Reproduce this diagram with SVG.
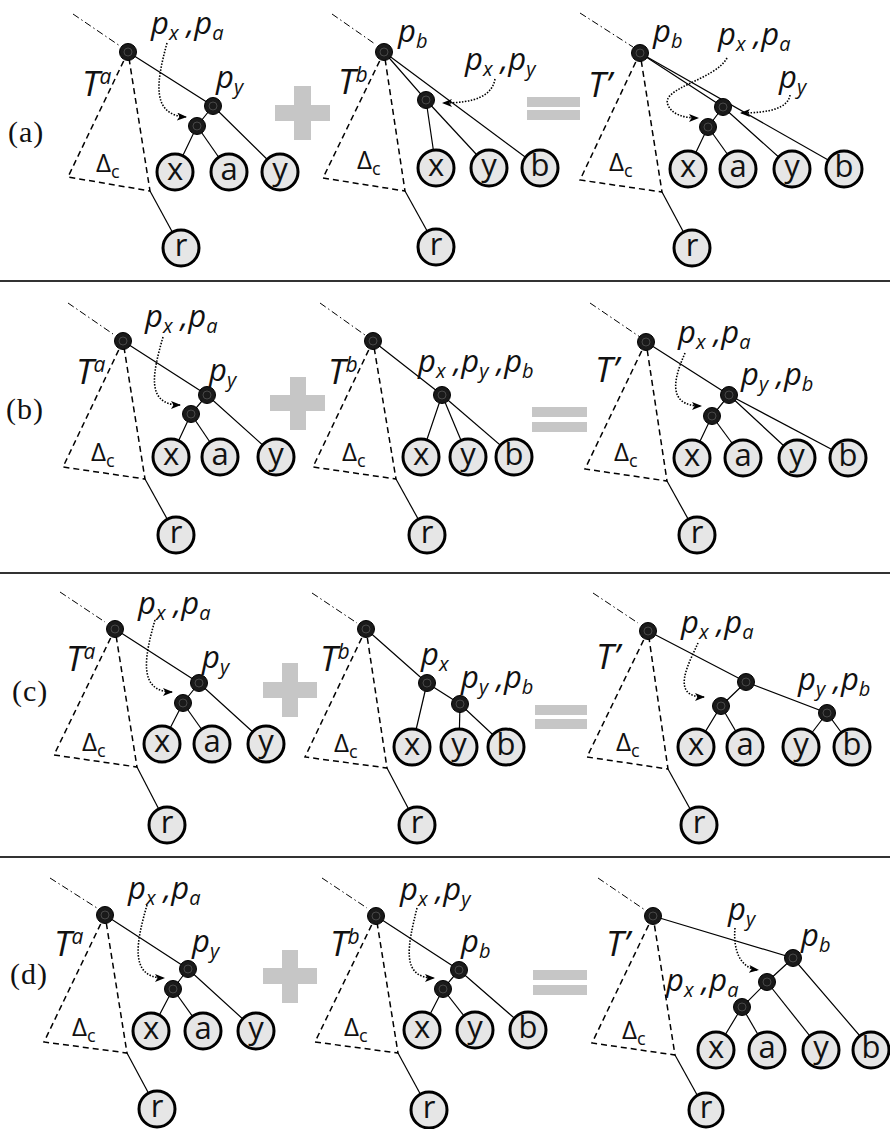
<svg xmlns="http://www.w3.org/2000/svg" width="890" height="1129" viewBox="0 0 890 1129">
<defs>
<style>
.e{stroke:#000;stroke-width:1.2;fill:none}
.dd{stroke:#000;stroke-width:1;stroke-dasharray:7 3 1.5 3;fill:none}
.tri{stroke:#000;stroke-width:1.5;stroke-dasharray:6 4;fill:none}
.arr{stroke:#000;stroke-width:1.6;stroke-dasharray:1.5 1.5;fill:none;marker-end:url(#ah)}
.in{fill:#1a1a1a;stroke:#000;stroke-width:1}
.ring{fill:none;stroke:#666;stroke-width:0.6}
.lf{fill:#e6e6e6;stroke:#000;stroke-width:3}
.lt{font-family:"Open Sans",sans-serif;font-size:31px;text-anchor:middle;fill:#111}
.lbl{font-family:"Open Sans",sans-serif;font-style:italic;font-size:31px;fill:#111}
.sub{font-size:20px}
.T{font-family:"Open Sans",sans-serif;font-style:italic;font-size:35px;fill:#111}
.sup{font-size:21px}
.D{font-family:"Open Sans",sans-serif;font-size:26px;fill:#111}
.subc{font-size:18px}
.pn{font-family:"Liberation Serif",serif;font-size:30px;letter-spacing:1px;fill:#111}
.g{fill:#c6c6c6}
.sep{stroke:#333;stroke-width:2}
</style>
<marker id="ah" markerUnits="userSpaceOnUse" markerWidth="11" markerHeight="9" refX="9" refY="4" orient="auto">
<path d="M0,0 L10,4 L0,8 L2.5,4 Z" fill="#000"/>
</marker>
</defs>
<rect width="890" height="1129" fill="#fff"/>

<g id="separators">
<line class="sep" x1="0" y1="281" x2="890" y2="281"/>
<line class="sep" x1="0" y1="573" x2="890" y2="573"/>
<line class="sep" x1="0" y1="857" x2="890" y2="857"/>
</g>

<g id="operators">
<g id="plus-a"><rect class="g" x="275" y="105" width="55" height="16"/><rect class="g" x="294" y="86" width="17" height="54"/></g>
<g id="eq-a"><rect class="g" x="527" y="97" width="53" height="10"/><rect class="g" x="527" y="110" width="53" height="10"/></g>
<g id="plus-b"><rect class="g" x="270" y="395" width="55" height="16"/><rect class="g" x="290" y="377" width="16" height="53"/></g>
<g id="eq-b"><rect class="g" x="532" y="407" width="55" height="10"/><rect class="g" x="532" y="422" width="55" height="10"/></g>
<g id="plus-c"><rect class="g" x="263" y="682" width="54" height="16"/><rect class="g" x="282" y="663" width="16" height="54"/></g>
<g id="eq-c"><rect class="g" x="535" y="705" width="52" height="10"/><rect class="g" x="535" y="719" width="52" height="10"/></g>
<g id="plus-d"><rect class="g" x="263" y="968" width="54" height="16"/><rect class="g" x="282" y="950" width="16" height="53"/></g>
<g id="eq-d"><rect class="g" x="533" y="970" width="54" height="10"/><rect class="g" x="533" y="985" width="54" height="10"/></g>
</g>

<g id="connectors">
<line class="dd" x1="73" y1="14" x2="120" y2="46"/>
<polygon class="tri" points="128,52 68,177 150,191"/>
<line class="e" x1="150" y1="191" x2="181" y2="248"/>
<polyline class="e" points="128,52 213,106 280,172"/>
<polyline class="e" points="213,106 197,126 175,172"/>
<line class="e" x1="197" y1="126" x2="229" y2="172"/>
<path class="arr" d="M167,43 C157,80 150,115 186,117"/>
<line class="dd" x1="332" y1="14" x2="375" y2="44"/>
<polygon class="tri" points="384,52 323,178 405,191"/>
<line class="e" x1="405" y1="191" x2="436" y2="247"/>
<polyline class="e" points="384,52 426,100 436,168"/>
<line class="e" x1="426" y1="100" x2="489" y2="168"/>
<line class="e" x1="384" y1="52" x2="540" y2="168"/>
<path class="arr" d="M495,79 C492,96 475,103 443,103"/>
<line class="dd" x1="580" y1="13" x2="633" y2="47"/>
<polygon class="tri" points="640,53 580,180 662,192"/>
<line class="e" x1="662" y1="192" x2="692" y2="248"/>
<polyline class="e" points="640,53 723,107 792,169"/>
<line class="e" x1="640" y1="53" x2="844" y2="169"/>
<polyline class="e" points="723,107 708,127 688,169"/>
<line class="e" x1="708" y1="127" x2="738" y2="169"/>
<path class="arr" d="M727,58 C715,80 660,88 668,105 C672,115 685,118 698,118"/>
<path class="arr" d="M790,95 C788,108 770,113 741,113"/>

<line class="dd" x1="68" y1="303" x2="113" y2="334"/>
<polygon class="tri" points="123,341 63,467 145,479"/>
<line class="e" x1="145" y1="479" x2="176" y2="535"/>
<polyline class="e" points="123,341 207,395 276,457"/>
<polyline class="e" points="207,395 191,414 171,457"/>
<line class="e" x1="191" y1="414" x2="220" y2="457"/>
<path class="arr" d="M163,337 C153,372 145,405 180,405"/>
<line class="dd" x1="320" y1="303" x2="365" y2="335"/>
<polygon class="tri" points="373,341 313,467 396,479"/>
<line class="e" x1="396" y1="479" x2="427" y2="535"/>
<polyline class="e" points="373,341 442,395 421,457"/>
<line class="e" x1="442" y1="395" x2="468" y2="457"/>
<line class="e" x1="442" y1="395" x2="514" y2="457"/>
<line class="dd" x1="590" y1="303" x2="640" y2="337"/>
<polygon class="tri" points="646,342 585,469 667,481"/>
<line class="e" x1="667" y1="481" x2="697" y2="535"/>
<polyline class="e" points="646,342 729,395 797,458"/>
<line class="e" x1="729" y1="395" x2="848" y2="458"/>
<polyline class="e" points="729,395 712,416 692,458"/>
<line class="e" x1="712" y1="416" x2="743" y2="458"/>
<path class="arr" d="M685,353 C675,376 665,406 701,406"/>

<line class="dd" x1="60" y1="592" x2="105" y2="622"/>
<polygon class="tri" points="115,629 54,755 137,767"/>
<line class="e" x1="137" y1="767" x2="167" y2="825"/>
<polyline class="e" points="115,629 199,683 266,744"/>
<polyline class="e" points="199,683 183,703 162,744"/>
<line class="e" x1="183" y1="703" x2="212" y2="744"/>
<path class="arr" d="M155,620 C145,655 137,692 172,692"/>
<line class="dd" x1="312" y1="593" x2="357" y2="623"/>
<polygon class="tri" points="366,629 305,757 387,768"/>
<line class="e" x1="387" y1="768" x2="417" y2="825"/>
<polyline class="e" points="366,629 427,683 460,704 506,747"/>
<line class="e" x1="427" y1="683" x2="412" y2="747"/>
<line class="e" x1="460" y1="704" x2="459" y2="747"/>
<line class="dd" x1="593" y1="593" x2="638" y2="623"/>
<polygon class="tri" points="648,631 587,757 668,769"/>
<line class="e" x1="668" y1="769" x2="699" y2="825"/>
<polyline class="e" points="648,631 746,682 827,713 852,747"/>
<line class="e" x1="827" y1="713" x2="801" y2="747"/>
<polyline class="e" points="746,682 721,706 696,747"/>
<line class="e" x1="721" y1="706" x2="745" y2="747"/>
<path class="arr" d="M698,643 C688,665 670,697 704,697"/>

<line class="dd" x1="50" y1="878" x2="97" y2="908"/>
<polygon class="tri" points="105,915 44,1042 127,1053"/>
<line class="e" x1="127" y1="1053" x2="157" y2="1109"/>
<polyline class="e" points="105,915 188,969 256,1031"/>
<polyline class="e" points="188,969 173,989 151,1031"/>
<line class="e" x1="173" y1="989" x2="203" y2="1031"/>
<path class="arr" d="M147,905 C137,940 128,978 164,978"/>
<line class="dd" x1="322" y1="878" x2="367" y2="908"/>
<polygon class="tri" points="376,916 315,1042 398,1053"/>
<line class="e" x1="398" y1="1053" x2="429" y2="1110"/>
<polyline class="e" points="376,916 459,970 528,1030"/>
<polyline class="e" points="459,970 443,989 422,1030"/>
<line class="e" x1="443" y1="989" x2="475" y2="1030"/>
<path class="arr" d="M417,908 C408,945 400,978 434,978"/>
<line class="dd" x1="598" y1="878" x2="645" y2="910"/>
<polygon class="tri" points="653,916 592,1043 675,1055"/>
<line class="e" x1="675" y1="1055" x2="706" y2="1111"/>
<polyline class="e" points="653,916 793,958 872,1050"/>
<polyline class="e" points="793,958 767,982 742,1007 716,1050"/>
<line class="e" x1="767" y1="982" x2="821" y2="1050"/>
<line class="e" x1="742" y1="1007" x2="767" y2="1050"/>
<path class="arr" d="M735,928 C733,950 740,968 758,970"/>
</g>

<g id="internal-nodes">
<g id="a1-root"><circle class="in" cx="128" cy="52" r="8.5"/><circle class="ring" cx="128" cy="52" r="4"/></g>
<g id="a1-py"><circle class="in" cx="213" cy="106" r="8.5"/><circle class="ring" cx="213" cy="106" r="4"/></g>
<g id="a1-pxa"><circle class="in" cx="197" cy="126" r="8.5"/><circle class="ring" cx="197" cy="126" r="4"/></g>
<g id="a2-root"><circle class="in" cx="384" cy="52" r="8.5"/><circle class="ring" cx="384" cy="52" r="4"/></g>
<g id="a2-pxy"><circle class="in" cx="426" cy="100" r="8.5"/><circle class="ring" cx="426" cy="100" r="4"/></g>
<g id="a3-root"><circle class="in" cx="640" cy="53" r="8.5"/><circle class="ring" cx="640" cy="53" r="4"/></g>
<g id="a3-py"><circle class="in" cx="723" cy="107" r="8.5"/><circle class="ring" cx="723" cy="107" r="4"/></g>
<g id="a3-pxa"><circle class="in" cx="708" cy="127" r="8.5"/><circle class="ring" cx="708" cy="127" r="4"/></g>

<g id="b1-root"><circle class="in" cx="123" cy="341" r="8.5"/><circle class="ring" cx="123" cy="341" r="4"/></g>
<g id="b1-py"><circle class="in" cx="207" cy="395" r="8.5"/><circle class="ring" cx="207" cy="395" r="4"/></g>
<g id="b1-pxa"><circle class="in" cx="191" cy="414" r="8.5"/><circle class="ring" cx="191" cy="414" r="4"/></g>
<g id="b2-root"><circle class="in" cx="373" cy="341" r="8.5"/><circle class="ring" cx="373" cy="341" r="4"/></g>
<g id="b2-pxyb"><circle class="in" cx="442" cy="395" r="8.5"/><circle class="ring" cx="442" cy="395" r="4"/></g>
<g id="b3-root"><circle class="in" cx="646" cy="342" r="8.5"/><circle class="ring" cx="646" cy="342" r="4"/></g>
<g id="b3-pyb"><circle class="in" cx="729" cy="395" r="8.5"/><circle class="ring" cx="729" cy="395" r="4"/></g>
<g id="b3-pxa"><circle class="in" cx="712" cy="416" r="8.5"/><circle class="ring" cx="712" cy="416" r="4"/></g>

<g id="c1-root"><circle class="in" cx="115" cy="629" r="8.5"/><circle class="ring" cx="115" cy="629" r="4"/></g>
<g id="c1-py"><circle class="in" cx="199" cy="683" r="8.5"/><circle class="ring" cx="199" cy="683" r="4"/></g>
<g id="c1-pxa"><circle class="in" cx="183" cy="703" r="8.5"/><circle class="ring" cx="183" cy="703" r="4"/></g>
<g id="c2-root"><circle class="in" cx="366" cy="629" r="8.5"/><circle class="ring" cx="366" cy="629" r="4"/></g>
<g id="c2-px"><circle class="in" cx="427" cy="683" r="8.5"/><circle class="ring" cx="427" cy="683" r="4"/></g>
<g id="c2-pyb"><circle class="in" cx="460" cy="704" r="8.5"/><circle class="ring" cx="460" cy="704" r="4"/></g>
<g id="c3-root"><circle class="in" cx="648" cy="631" r="8.5"/><circle class="ring" cx="648" cy="631" r="4"/></g>
<g id="c3-mid"><circle class="in" cx="746" cy="682" r="8.5"/><circle class="ring" cx="746" cy="682" r="4"/></g>
<g id="c3-pxa"><circle class="in" cx="721" cy="706" r="8.5"/><circle class="ring" cx="721" cy="706" r="4"/></g>
<g id="c3-pyb"><circle class="in" cx="827" cy="713" r="8.5"/><circle class="ring" cx="827" cy="713" r="4"/></g>

<g id="d1-root"><circle class="in" cx="105" cy="915" r="8.5"/><circle class="ring" cx="105" cy="915" r="4"/></g>
<g id="d1-py"><circle class="in" cx="188" cy="969" r="8.5"/><circle class="ring" cx="188" cy="969" r="4"/></g>
<g id="d1-pxa"><circle class="in" cx="173" cy="989" r="8.5"/><circle class="ring" cx="173" cy="989" r="4"/></g>
<g id="d2-root"><circle class="in" cx="376" cy="916" r="8.5"/><circle class="ring" cx="376" cy="916" r="4"/></g>
<g id="d2-pb"><circle class="in" cx="459" cy="970" r="8.5"/><circle class="ring" cx="459" cy="970" r="4"/></g>
<g id="d2-pxy"><circle class="in" cx="443" cy="989" r="8.5"/><circle class="ring" cx="443" cy="989" r="4"/></g>
<g id="d3-root"><circle class="in" cx="653" cy="916" r="8.5"/><circle class="ring" cx="653" cy="916" r="4"/></g>
<g id="d3-pb"><circle class="in" cx="793" cy="958" r="8.5"/><circle class="ring" cx="793" cy="958" r="4"/></g>
<g id="d3-py"><circle class="in" cx="767" cy="982" r="8.5"/><circle class="ring" cx="767" cy="982" r="4"/></g>
<g id="d3-pxa"><circle class="in" cx="742" cy="1007" r="8.5"/><circle class="ring" cx="742" cy="1007" r="4"/></g>
</g>

<g id="leaves">
<g id="a1-x"><circle class="lf" cx="175" cy="172" r="18"/><text class="lt" x="175" y="180">x</text></g>
<g id="a1-a"><circle class="lf" cx="229" cy="172" r="18"/><text class="lt" x="229" y="180">a</text></g>
<g id="a1-y"><circle class="lf" cx="280" cy="172" r="18"/><text class="lt" x="280" y="180">y</text></g>
<g id="a1-r"><circle class="lf" cx="181" cy="248" r="18"/><text class="lt" x="181" y="256">r</text></g>
<g id="a2-x"><circle class="lf" cx="436" cy="168" r="18"/><text class="lt" x="436" y="176">x</text></g>
<g id="a2-y"><circle class="lf" cx="489" cy="168" r="18"/><text class="lt" x="489" y="176">y</text></g>
<g id="a2-b"><circle class="lf" cx="540" cy="168" r="18"/><text class="lt" x="540" y="176">b</text></g>
<g id="a2-r"><circle class="lf" cx="436" cy="247" r="18"/><text class="lt" x="436" y="255">r</text></g>
<g id="a3-x"><circle class="lf" cx="688" cy="169" r="18"/><text class="lt" x="688" y="177">x</text></g>
<g id="a3-a"><circle class="lf" cx="738" cy="169" r="18"/><text class="lt" x="738" y="177">a</text></g>
<g id="a3-y"><circle class="lf" cx="792" cy="169" r="18"/><text class="lt" x="792" y="177">y</text></g>
<g id="a3-b"><circle class="lf" cx="844" cy="169" r="18"/><text class="lt" x="844" y="177">b</text></g>
<g id="a3-r"><circle class="lf" cx="692" cy="248" r="18"/><text class="lt" x="692" y="256">r</text></g>

<g id="b1-x"><circle class="lf" cx="171" cy="457" r="18"/><text class="lt" x="171" y="465">x</text></g>
<g id="b1-a"><circle class="lf" cx="220" cy="457" r="18"/><text class="lt" x="220" y="465">a</text></g>
<g id="b1-y"><circle class="lf" cx="276" cy="457" r="18"/><text class="lt" x="276" y="465">y</text></g>
<g id="b1-r"><circle class="lf" cx="176" cy="535" r="18"/><text class="lt" x="176" y="543">r</text></g>
<g id="b2-x"><circle class="lf" cx="421" cy="457" r="18"/><text class="lt" x="421" y="465">x</text></g>
<g id="b2-y"><circle class="lf" cx="468" cy="457" r="18"/><text class="lt" x="468" y="465">y</text></g>
<g id="b2-b"><circle class="lf" cx="514" cy="457" r="18"/><text class="lt" x="514" y="465">b</text></g>
<g id="b2-r"><circle class="lf" cx="427" cy="535" r="18"/><text class="lt" x="427" y="543">r</text></g>
<g id="b3-x"><circle class="lf" cx="692" cy="458" r="18"/><text class="lt" x="692" y="466">x</text></g>
<g id="b3-a"><circle class="lf" cx="743" cy="458" r="18"/><text class="lt" x="743" y="466">a</text></g>
<g id="b3-y"><circle class="lf" cx="797" cy="458" r="18"/><text class="lt" x="797" y="466">y</text></g>
<g id="b3-b"><circle class="lf" cx="848" cy="458" r="18"/><text class="lt" x="848" y="466">b</text></g>
<g id="b3-r"><circle class="lf" cx="697" cy="535" r="18"/><text class="lt" x="697" y="543">r</text></g>

<g id="c1-x"><circle class="lf" cx="162" cy="744" r="18"/><text class="lt" x="162" y="752">x</text></g>
<g id="c1-a"><circle class="lf" cx="212" cy="744" r="18"/><text class="lt" x="212" y="752">a</text></g>
<g id="c1-y"><circle class="lf" cx="266" cy="744" r="18"/><text class="lt" x="266" y="752">y</text></g>
<g id="c1-r"><circle class="lf" cx="167" cy="825" r="18"/><text class="lt" x="167" y="833">r</text></g>
<g id="c2-x"><circle class="lf" cx="412" cy="747" r="18"/><text class="lt" x="412" y="755">x</text></g>
<g id="c2-y"><circle class="lf" cx="459" cy="747" r="18"/><text class="lt" x="459" y="755">y</text></g>
<g id="c2-b"><circle class="lf" cx="506" cy="747" r="18"/><text class="lt" x="506" y="755">b</text></g>
<g id="c2-r"><circle class="lf" cx="417" cy="825" r="18"/><text class="lt" x="417" y="833">r</text></g>
<g id="c3-x"><circle class="lf" cx="696" cy="747" r="18"/><text class="lt" x="696" y="755">x</text></g>
<g id="c3-a"><circle class="lf" cx="745" cy="747" r="18"/><text class="lt" x="745" y="755">a</text></g>
<g id="c3-y"><circle class="lf" cx="801" cy="747" r="18"/><text class="lt" x="801" y="755">y</text></g>
<g id="c3-b"><circle class="lf" cx="852" cy="747" r="18"/><text class="lt" x="852" y="755">b</text></g>
<g id="c3-r"><circle class="lf" cx="699" cy="825" r="18"/><text class="lt" x="699" y="833">r</text></g>

<g id="d1-x"><circle class="lf" cx="151" cy="1031" r="18"/><text class="lt" x="151" y="1039">x</text></g>
<g id="d1-a"><circle class="lf" cx="203" cy="1031" r="18"/><text class="lt" x="203" y="1039">a</text></g>
<g id="d1-y"><circle class="lf" cx="256" cy="1031" r="18"/><text class="lt" x="256" y="1039">y</text></g>
<g id="d1-r"><circle class="lf" cx="157" cy="1109" r="18"/><text class="lt" x="157" y="1117">r</text></g>
<g id="d2-x"><circle class="lf" cx="422" cy="1030" r="18"/><text class="lt" x="422" y="1038">x</text></g>
<g id="d2-y"><circle class="lf" cx="475" cy="1030" r="18"/><text class="lt" x="475" y="1038">y</text></g>
<g id="d2-b"><circle class="lf" cx="528" cy="1030" r="18"/><text class="lt" x="528" y="1038">b</text></g>
<g id="d2-r"><circle class="lf" cx="429" cy="1110" r="18"/><text class="lt" x="429" y="1118">r</text></g>
<g id="d3-x"><circle class="lf" cx="716" cy="1050" r="18"/><text class="lt" x="716" y="1058">x</text></g>
<g id="d3-a"><circle class="lf" cx="767" cy="1050" r="18"/><text class="lt" x="767" y="1058">a</text></g>
<g id="d3-y"><circle class="lf" cx="821" cy="1050" r="18"/><text class="lt" x="821" y="1058">y</text></g>
<g id="d3-b"><circle class="lf" cx="871" cy="1050" r="18"/><text class="lt" x="871" y="1058">b</text></g>
<g id="d3-r"><circle class="lf" cx="706" cy="1110" r="17"/><text class="lt" x="706" y="1118">r</text></g>
</g>

<g id="labels">
<text class="pn" x="8" y="142">(a)</text>
<text class="pn" x="6" y="419">(b)</text>
<text class="pn" x="12" y="701">(c)</text>
<text class="pn" x="10" y="984">(d)</text>

<text class="T" x="82" y="96">T<tspan class="sup" dy="-12">a</tspan></text>
<text class="D" x="96" y="172">Δ<tspan class="subc" dy="6">c</tspan></text>
<text class="lbl" x="151" y="34">p<tspan class="sub" dy="6">x</tspan><tspan dy="-6"> ,p</tspan><tspan class="sub" dy="6">a</tspan></text>
<text class="lbl" x="216" y="88">p<tspan class="sub" dy="6">y</tspan></text>
<text class="T" x="338" y="94">T<tspan class="sup" dy="-12">b</tspan></text>
<text class="D" x="357" y="169">Δ<tspan class="subc" dy="6">c</tspan></text>
<text class="lbl" x="398" y="42">p<tspan class="sub" dy="6">b</tspan></text>
<text class="lbl" x="465" y="70">p<tspan class="sub" dy="6">x</tspan><tspan dy="-6"> ,p</tspan><tspan class="sub" dy="6">y</tspan></text>
<text class="T" x="588" y="97">T’</text>
<text class="D" x="609" y="171">Δ<tspan class="subc" dy="6">c</tspan></text>
<text class="lbl" x="653" y="42">p<tspan class="sub" dy="6">b</tspan></text>
<text class="lbl" x="718" y="45">p<tspan class="sub" dy="6">x</tspan><tspan dy="-6"> ,p</tspan><tspan class="sub" dy="6">a</tspan></text>
<text class="lbl" x="779" y="88">p<tspan class="sub" dy="6">y</tspan></text>

<text class="T" x="76" y="384">T<tspan class="sup" dy="-12">a</tspan></text>
<text class="D" x="91" y="461">Δ<tspan class="subc" dy="6">c</tspan></text>
<text class="lbl" x="145" y="327">p<tspan class="sub" dy="6">x</tspan><tspan dy="-6"> ,p</tspan><tspan class="sub" dy="6">a</tspan></text>
<text class="lbl" x="209" y="381">p<tspan class="sub" dy="6">y</tspan></text>
<text class="T" x="328" y="384">T<tspan class="sup" dy="-12">b</tspan></text>
<text class="D" x="342" y="461">Δ<tspan class="subc" dy="6">c</tspan></text>
<text class="lbl" x="418" y="372">p<tspan class="sub" dy="6">x</tspan><tspan dy="-6"> ,p</tspan><tspan class="sub" dy="6">y</tspan><tspan dy="-6"> ,p</tspan><tspan class="sub" dy="6">b</tspan></text>
<text class="T" x="595" y="382">T’</text>
<text class="D" x="614" y="461">Δ<tspan class="subc" dy="6">c</tspan></text>
<text class="lbl" x="678" y="343">p<tspan class="sub" dy="6">x</tspan><tspan dy="-6"> ,p</tspan><tspan class="sub" dy="6">a</tspan></text>
<text class="lbl" x="741" y="385">p<tspan class="sub" dy="6">y</tspan><tspan dy="-6"> ,p</tspan><tspan class="sub" dy="6">b</tspan></text>

<text class="T" x="66" y="671">T<tspan class="sup" dy="-12">a</tspan></text>
<text class="D" x="82" y="751">Δ<tspan class="subc" dy="6">c</tspan></text>
<text class="lbl" x="138" y="614">p<tspan class="sub" dy="6">x</tspan><tspan dy="-6"> ,p</tspan><tspan class="sub" dy="6">a</tspan></text>
<text class="lbl" x="202" y="668">p<tspan class="sub" dy="6">y</tspan></text>
<text class="T" x="320" y="671">T<tspan class="sup" dy="-12">b</tspan></text>
<text class="D" x="334" y="752">Δ<tspan class="subc" dy="6">c</tspan></text>
<text class="lbl" x="421" y="665">p<tspan class="sub" dy="6">x</tspan></text>
<text class="lbl" x="461" y="688">p<tspan class="sub" dy="6">y</tspan><tspan dy="-6"> ,p</tspan><tspan class="sub" dy="6">b</tspan></text>
<text class="T" x="596" y="669">T’</text>
<text class="D" x="616" y="751">Δ<tspan class="subc" dy="6">c</tspan></text>
<text class="lbl" x="681" y="633">p<tspan class="sub" dy="6">x</tspan><tspan dy="-6"> ,p</tspan><tspan class="sub" dy="6">a</tspan></text>
<text class="lbl" x="798" y="690">p<tspan class="sub" dy="6">y</tspan><tspan dy="-6"> ,p</tspan><tspan class="sub" dy="6">b</tspan></text>

<text class="T" x="54" y="956">T<tspan class="sup" dy="-12">a</tspan></text>
<text class="D" x="72" y="1036">Δ<tspan class="subc" dy="6">c</tspan></text>
<text class="lbl" x="128" y="899">p<tspan class="sub" dy="6">x</tspan><tspan dy="-6"> ,p</tspan><tspan class="sub" dy="6">a</tspan></text>
<text class="lbl" x="192" y="952">p<tspan class="sub" dy="6">y</tspan></text>
<text class="T" x="330" y="956">T<tspan class="sup" dy="-12">b</tspan></text>
<text class="D" x="344" y="1036">Δ<tspan class="subc" dy="6">c</tspan></text>
<text class="lbl" x="400" y="900">p<tspan class="sub" dy="6">x</tspan><tspan dy="-6"> ,p</tspan><tspan class="sub" dy="6">y</tspan></text>
<text class="lbl" x="461" y="952">p<tspan class="sub" dy="6">b</tspan></text>
<text class="T" x="606" y="956">T’</text>
<text class="D" x="622" y="1039">Δ<tspan class="subc" dy="6">c</tspan></text>
<text class="lbl" x="728" y="920">p<tspan class="sub" dy="6">y</tspan></text>
<text class="lbl" x="801" y="946">p<tspan class="sub" dy="6">b</tspan></text>
<text class="lbl" x="666" y="991">p<tspan class="sub" dy="6">x</tspan><tspan dy="-6"> ,p</tspan><tspan class="sub" dy="6">a</tspan></text>
</g>
</svg>
